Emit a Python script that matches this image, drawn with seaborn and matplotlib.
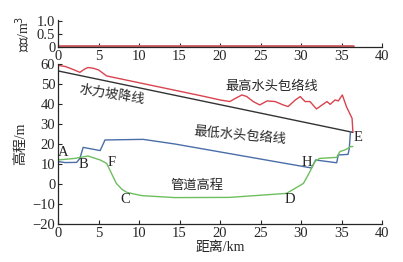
import numpy as np
import pandas as pd
import seaborn as sns
import matplotlib.pyplot as plt

sns.set_style('ticks')
plt.rcParams['font.family'] = ['Liberation Serif', 'Noto Sans CJK SC']
plt.rcParams['axes.unicode_minus'] = True

# 容积 (top panel)
vol_x = [0, 36.4]
vol_y = [0.03, 0.03]

# 水力坡降线
grad_x = [0, 36.4]
grad_y = [56.5, 25.8]

# 最高水头包络线
max_x = [0, 0.9, 1.7, 2.7, 3.3, 3.7, 4.4, 5.0, 6.0, 18.0, 20.0, 21.2, 21.9, 22.7, 23.3,
         24.1, 24.9, 25.8, 26.8, 27.8, 28.4, 29.3, 29.9, 30.5, 31.1, 31.9, 32.6, 33.2,
         33.6, 34.2, 34.6, 35.1, 35.6, 36.3, 36.4]
max_y = [59.3, 58.7, 57.5, 55.8, 57.5, 58.2, 57.8, 57.0, 54.0, 43.8, 42.0, 41.2, 42.8,
         44.5, 43.7, 41.2, 39.5, 41.5, 41.2, 39.5, 38.7, 42.0, 43.7, 41.2, 41.2, 37.5,
         39.5, 41.2, 39.8, 42.0, 41.5, 44.5, 38.7, 32.8, 26.0]

# 最低水头包络线
min_x = [0, 0.9, 2.3, 2.7, 3.1, 5.2, 5.8, 10.5, 14.4, 31.3, 31.8, 34.4, 34.6, 35.8,
         35.95, 36.1]
min_y = [11.2, 10.7, 10.8, 12.8, 18.3, 16.7, 22.0, 22.3, 20.0, 8.0, 12.0, 10.6, 14.5,
         14.8, 17.5, 26.0]

# 管道高程
pipe_x = [0, 2.1, 3.7, 5.2, 6.0, 6.6, 7.2, 7.9, 8.5, 10.3, 14.4, 21.2, 28.2, 30.3,
          31.1, 31.7, 32.3, 34.4, 34.8, 35.4, 35.8, 36.1, 36.4]
pipe_y = [12.0, 12.8, 14.0, 12.0, 10.3, 5.3, 0.3, -2.7, -4.2, -5.8, -6.8, -6.7, -4.7,
          0.3, 6.2, 11.2, 12.8, 13.3, 16.2, 17.0, 17.8, 18.7, 18.7]

# 点标注
pt_names = ['A', 'B', 'F', 'C', 'D', 'H', 'E']
pt_x = [0.6, 3.1, 6.6, 8.3, 28.6, 30.7, 37.0]
pt_y = [15.7, 9.6, 10.8, -7.8, -7.8, 10.6, 23.2]

red = '#d9434f'
blue = '#4a6ea8'
green = '#6dbf5e'
black = '#333333'
fs = 9.5
tfs = 10.5

fig = plt.figure(figsize=(4.03, 2.62), dpi=100)
ax1 = fig.add_axes([0.144, 0.8206, 0.804, 0.104])
ax2 = fig.add_axes([0.144, 0.145, 0.804, 0.611])

sns.lineplot(x=vol_x, y=vol_y, ax=ax1, color='#cf5a62', linewidth=2)
ax1.set_xlim(0, 40)
ax1.set_ylim(0, 1.05)
ax1.set_yticks([0, 0.5, 1.0])
ax1.set_yticklabels(['0', '0.5', '1.0'])
ax1.set_xticks(range(0, 41, 5))
ax1.set_ylabel('容积/m$^3$', fontsize=10, labelpad=3)

sns.lineplot(x=grad_x, y=grad_y, ax=ax2, color=black, linewidth=1, sort=False, estimator=None)
sns.lineplot(x=max_x, y=max_y, ax=ax2, color=red, linewidth=1, sort=False, estimator=None)
sns.lineplot(x=min_x, y=min_y, ax=ax2, color=blue, linewidth=1, sort=False, estimator=None)
sns.lineplot(x=pipe_x, y=pipe_y, ax=ax2, color=green, linewidth=1, sort=False, estimator=None)
ax2.set_xlim(0, 40)
ax2.set_ylim(-20, 60)
ax2.set_xticks(range(0, 41, 5))
ax2.set_yticks(range(-20, 61, 10))
ax2.set_xlabel('距离/km', fontsize=10, labelpad=1)
ax2.set_ylabel('高程/m', fontsize=10, labelpad=4)

for ax in (ax1, ax2):
    sns.despine(ax=ax)
    ax.tick_params(direction='in', length=3, width=0.8, labelsize=tfs, pad=2)
    for s in ax.spines.values():
        s.set_linewidth(0.9)

ax2.text(6.6, 44.8, '水力坡降线', fontsize=fs, rotation=-9, ha='center', va='center')
ax2.text(26.4, 48.7, '最高水头包络线', fontsize=fs, ha='center', va='center')
ax2.text(22.5, 24.3, '最低水头包络线', fontsize=fs, rotation=-5, ha='center', va='center')
ax2.text(17.2, -1.0, '管道高程', fontsize=fs, ha='center', va='center')
for n, x, y in zip(pt_names, pt_x, pt_y):
    ax2.text(x, y, n, fontsize=tfs, ha='center', va='center')

fig.savefig('out.png', dpi=100)
